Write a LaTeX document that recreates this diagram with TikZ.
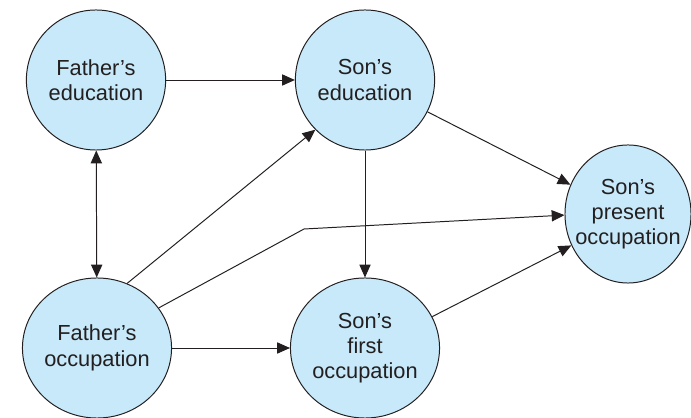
\documentclass[tikz,border=0pt]{standalone}
\usepackage{fontspec}
\setmainfont{Liberation Sans}
\usetikzlibrary{arrows.meta, shapes.geometric}
\definecolor{pathFill}{HTML}{C7E9F9}
\definecolor{pathLine}{HTML}{231F20}

\begin{document}
\begin{tikzpicture}[
    x=0.025cm, y=-0.025cm,
    factor/.style={ellipse, draw=pathLine, fill=pathFill, line width=0.7pt,
                   minimum width=3.48cm, minimum height=3.5cm, inner sep=0pt,
                   align=center, font=\fontsize{15.5}{18}\selectfont, text=pathLine},
    link/.style={draw=pathLine, line width=0.7pt,
                 -{Triangle[length=0.32cm, width=0.28cm]}},
  ]
    \useasboundingbox (0,0) rectangle (691,418);

    \node[factor] (fed) at (96,80) {Father’s\\education};
    \node[factor] (sed) at (365,80) {Son’s\\education};
    \node[factor] (foc) at (97,348) {Father’s\\occupation};
    \node[factor] (sfo) at (365,348) {Son’s\\first\\occupation};
    \node[factor, inner xsep=-0.6cm, inner ysep=-0.4cm,
          minimum width=3.15cm, minimum height=3.45cm] (spo) at (628,214)
      {Son’s\\present\\occupation};

    \coordinate (bend) at (304,229);

    \draw[link] (fed) -- (sed);
    \draw[link, {Triangle[length=0.32cm, width=0.28cm]}-{Triangle[length=0.32cm, width=0.28cm]}] (fed) -- (foc);
    \draw[link] (foc.65) -- (sed.225);
    \draw[link] (foc.33) -- (bend) -- (spo.181);
    \draw[link] (sed) -- (sfo);
    \draw[link] (sed.-27) -- (spo.153);
    \draw[link] (sfo.25) -- (spo.209);
    \draw[link] (foc) -- (sfo);
  \end{tikzpicture}
\end{document}
